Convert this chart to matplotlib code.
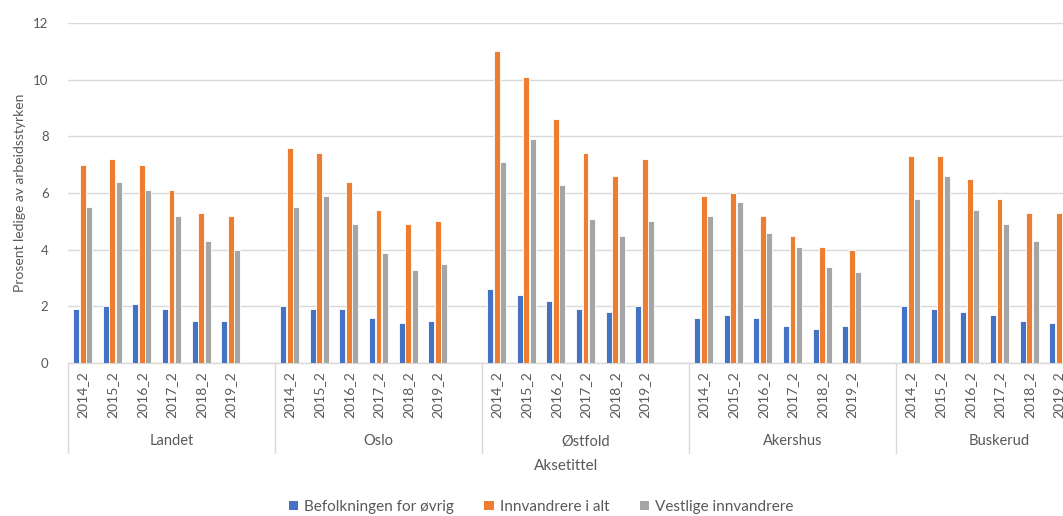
import matplotlib
matplotlib.use("Agg")
import matplotlib.pyplot as plt
import matplotlib.transforms as mtransforms
from matplotlib.lines import Line2D
from matplotlib.patches import Patch
import numpy as np

plt.rcParams['font.family'] = ['Lato', 'DejaVu Sans']

groups = ["Landet", "Oslo", "Østfold", "Akershus", "Buskerud"]
years = ["2014_2", "2015_2", "2016_2", "2017_2", "2018_2", "2019_2"]
series_names = ["Befolkningen for øvrig", "Innvandrere i alt", "Vestlige innvandrere"]

befolkningen = [
    [1.9, 2.0, 2.1, 1.9, 1.5, 1.5],   # Landet
    [2.0, 1.9, 1.9, 1.6, 1.4, 1.5],   # Oslo
    [2.6, 2.4, 2.2, 1.9, 1.8, 2.0],   # Østfold
    [1.6, 1.7, 1.6, 1.3, 1.2, 1.3],   # Akershus
    [2.0, 1.9, 1.8, 1.7, 1.5, 1.4],   # Buskerud
]
innvandrere = [
    [7.0, 7.2, 7.0, 6.1, 5.3, 5.2],
    [7.6, 7.4, 6.4, 5.4, 4.9, 5.0],
    [11.0, 10.1, 8.6, 7.4, 6.6, 7.2],
    [5.9, 6.0, 5.2, 4.5, 4.1, 4.0],
    [7.3, 7.3, 6.5, 5.8, 5.3, 5.3],
]
vestlige = [
    [5.5, 6.4, 6.1, 5.2, 4.3, 4.0],
    [5.5, 5.9, 4.9, 3.9, 3.3, 3.5],
    [7.1, 7.9, 6.3, 5.1, 4.5, 5.0],
    [5.2, 5.7, 4.6, 4.1, 3.4, 3.2],
    [5.8, 6.6, 5.4, 4.9, 4.3, 4.2],
]

colors = ["#4472C4", "#ED7D31", "#A5A5A5"]
text_color = "#595959"
grid_color = "#D9D9D9"

W, H = 1063, 516
fig = plt.figure(figsize=(W / 100, H / 100), dpi=100)

x0 = 68 / W
y0 = (H - 363) / H
yh = (363 - 23) / H
slots_per_group = 7
n_slots = slots_per_group * len(groups)
slot_px = 207.0
ax = fig.add_axes([x0, y0, n_slots * slot_px / 7 / W, yh])

centers = []
for g in range(len(groups)):
    for j in range(len(years)):
        centers.append(g * slots_per_group + j + 0.5)
centers = np.array(centers)

bw = 0.2
offs = [-0.22, 0.0, 0.22]
for s, data in enumerate([befolkningen, innvandrere, vestlige]):
    vals = np.array(data).ravel()
    ax.bar(centers + offs[s], vals, width=bw, color=colors[s],
           edgecolor="white", linewidth=0.6, zorder=3, label=series_names[s])

ax.set_xlim(0, n_slots)
ax.set_ylim(0, 12)
ax.set_yticks(range(0, 13, 2))
ax.tick_params(axis='y', length=0, labelsize=9.5, labelcolor=text_color, pad=14)
ax.yaxis.grid(True, color=grid_color, linewidth=1, zorder=0)
ax.set_axisbelow(True)
for sp in ["top", "right", "left"]:
    ax.spines[sp].set_visible(False)
ax.spines["bottom"].set_color(grid_color)
ax.spines["bottom"].set_linewidth(1)

ax.set_xticks(centers)
ax.set_xticklabels(years * len(groups), rotation=90, fontsize=10, color=text_color)
ax.tick_params(axis='x', length=0, pad=6)

ax.set_ylabel("Prosent ledige av arbeidsstyrken", fontsize=10, color=text_color, labelpad=5)

trans = mtransforms.blended_transform_factory(ax.transData, fig.transFigure)
for g in range(len(groups) + 1):
    xs = g * slots_per_group
    ax.add_line(Line2D([xs, xs], [(H - 363) / H, (H - 453) / H], transform=trans,
                       color=grid_color, linewidth=1, clip_on=False))
for g, name in enumerate(groups):
    xc = g * slots_per_group + slots_per_group / 2
    ax.text(xc, (H - 441) / H, name, transform=trans, ha="center", va="center",
            fontsize=10.5, color=text_color)

fig.text(566 / W, (H - 466) / H, "Aksetittel", ha="center", va="center",
         fontsize=11, color=text_color)

handles = [Patch(facecolor=c, edgecolor="none") for c in colors]
fig.legend(handles, series_names, loc="center", bbox_to_anchor=(541 / W, (H - 507) / H),
           ncol=3, frameon=False, fontsize=11, labelcolor=text_color,
           handlelength=0.6, handleheight=0.6, handletextpad=0.4, columnspacing=2.0)

fig.savefig("out.png", dpi=100)
